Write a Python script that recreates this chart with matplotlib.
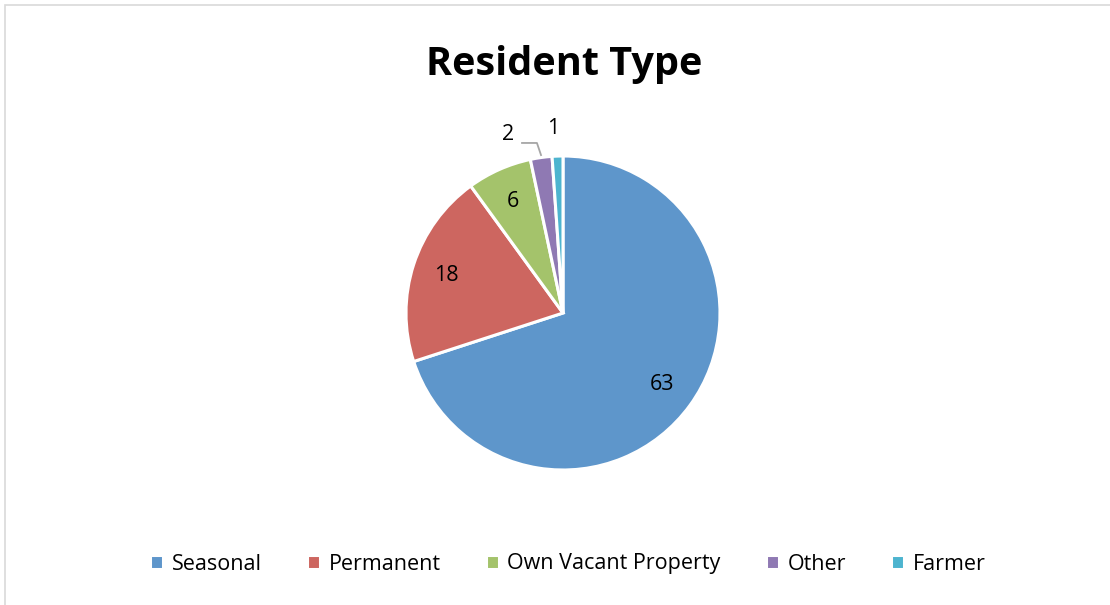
import matplotlib.pyplot as plt
from matplotlib.patches import Rectangle
import numpy as np

categories = ["Seasonal", "Permanent", "Own Vacant Property", "Other", "Farmer"]
counts = [63, 18, 6, 2, 1]
colors = ["#5E96CB", "#CD6660", "#A4C36B", "#8F79B3", "#4DB4CF"]

plt.rcParams['font.family'] = ['Open Sans', 'DejaVu Sans']

fig = plt.figure(figsize=(11.1, 6.05), dpi=100)

# light frame around the chart area (right / bottom edges fall off the image)
fig.patches.append(Rectangle((5 / 1110, -0.05), 1.2, 1 - 5 / 605 + 0.05,
                             transform=fig.transFigure, fill=False,
                             edgecolor="#D9D9D9", lw=1.2))

cx, cy, r = 563, 313, 157
ax = fig.add_axes([(cx - r) / 1110, (605 - cy - r) / 605, 2 * r / 1110, 2 * r / 605])

wedges, _ = ax.pie(counts, colors=colors, startangle=90, counterclock=False,
                   radius=1, wedgeprops=dict(edgecolor="white", linewidth=2.2))
ax.set_xlim(-1, 1)
ax.set_ylim(-1, 1)
ax.set_aspect("equal")
ax.axis("off")

for i, w in enumerate(wedges[:3]):
    ang = np.deg2rad((w.theta1 + w.theta2) / 2)
    d = 0.78
    ax.text(d * np.cos(ang), d * np.sin(ang), str(counts[i]),
            ha="center", va="center", fontsize=15.5)

# small slices labelled outside
ax.plot([-0.14, -0.166, -0.261], [1.006, 1.083, 1.083],
        color="#A6A6A6", lw=1.3, clip_on=False)
ax.text(-0.35, 1.134, str(counts[3]), ha="center", va="center", fontsize=15.5)
ax.text(-0.064, 1.178, str(counts[4]), ha="center", va="center", fontsize=15.5)

fig.text(564 / 1110, 1 - 65 / 605, "Resident Type", ha="center", va="center",
         fontsize=28.5, fontweight="bold")

leg = fig.legend(wedges, categories, loc="center", bbox_to_anchor=(568 / 1110, 1 - 564 / 605),
                 ncol=5, frameon=False, fontsize=15.5, handlelength=0.6, handleheight=0.6,
                 handletextpad=0.4, columnspacing=2.1)

fig.savefig("out.png", dpi=100)
